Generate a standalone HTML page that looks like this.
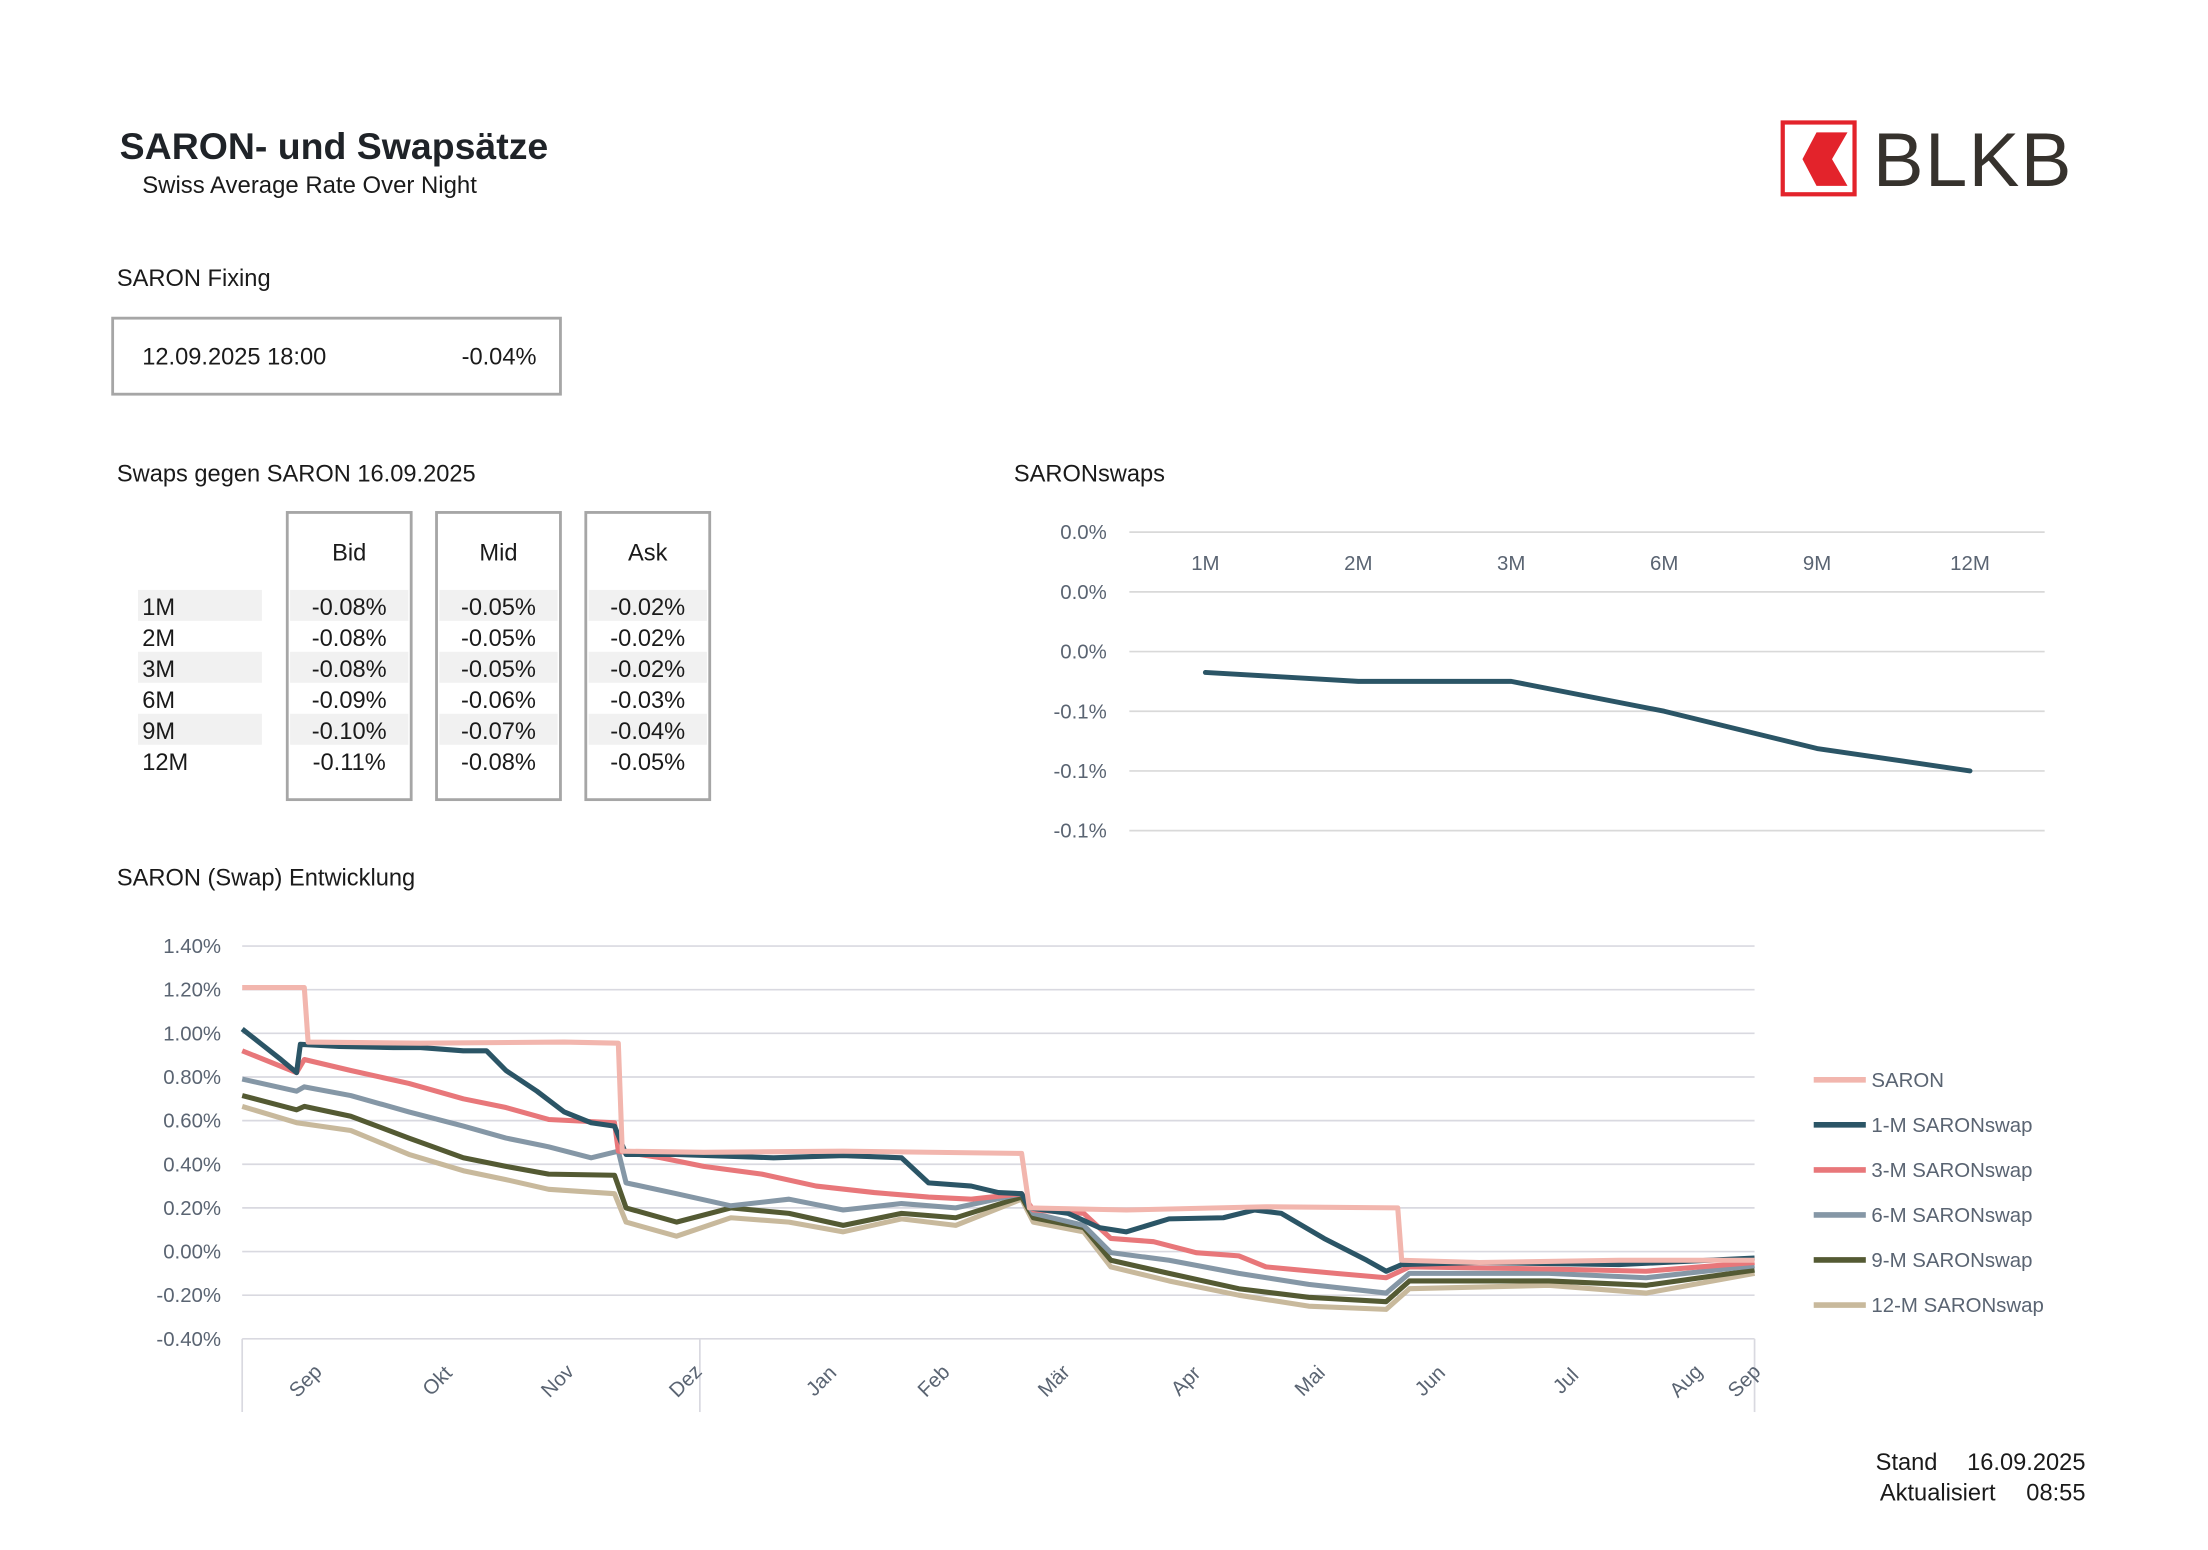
<!DOCTYPE html>
<html><head><meta charset="utf-8">
<style>
html,body{margin:0;padding:0;background:#fff;}
svg{display:block;font-family:"Liberation Sans",sans-serif;}
</style></head>
<body>
<svg id="root" width="2208" height="1550" viewBox="0 0 1568 1101" preserveAspectRatio="none" xmlns="http://www.w3.org/2000/svg">
<rect x="0" y="0" width="1568" height="1101" fill="#fff"/>
<text x="85" y="113" font-size="26.6" font-weight="bold" fill="#1f2328">SARON- und Swapsätze</text>
<text x="101" y="137" font-size="17" fill="#1a1a1a">Swiss Average Rate Over Night</text>
<g>
<rect x="1266" y="87" width="51" height="51" fill="#fff" stroke="#e3232b" stroke-width="3"/>
<polygon points="1290,94 1312,94 1301,113 1312,132 1290,132 1280,113" fill="#e3232b"/>
<text x="1330" y="132" font-size="54" fill="#36322d" letter-spacing="1">BLKB</text>
</g>
<text x="83" y="203" font-size="16.8" fill="#1a1a1a">SARON Fixing</text>
<g>
<rect x="80" y="226" width="318" height="54" fill="#fff" stroke="#a6a6a6" stroke-width="2"/>
<text x="101" y="259" font-size="16.8" fill="#1a1a1a">12.09.2025 18:00</text>
<text x="381" y="259" font-size="16.8" fill="#1a1a1a" text-anchor="end">-0.04%</text>
</g>
<text x="83" y="342" font-size="16.8" fill="#1a1a1a">Swaps gegen SARON 16.09.2025</text>
<g id="table"></g>
<text x="720" y="342" font-size="16.8" fill="#1a1a1a">SARONswaps</text>
<g id="curve"></g>
<text x="83" y="629" font-size="16.8" fill="#1a1a1a">SARON (Swap) Entwicklung</text>
<g id="hist"></g>
<g>
<text x="1332" y="1044" font-size="16.8" fill="#1a1a1a">Stand</text>
<text x="1481" y="1044" font-size="16.8" fill="#1a1a1a" text-anchor="end">16.09.2025</text>
<text x="1335" y="1066" font-size="16.8" fill="#1a1a1a">Aktualisiert</text>
<text x="1481" y="1066" font-size="16.8" fill="#1a1a1a" text-anchor="end">08:55</text>
</g>
</svg>
<script>
// ---- table data ----
const tenors = ["1M","2M","3M","6M","9M","12M"];
const bidVals = ["-0.08%","-0.08%","-0.08%","-0.09%","-0.10%","-0.11%"];
const midVals = ["-0.05%","-0.05%","-0.05%","-0.06%","-0.07%","-0.08%"];
const askVals = ["-0.02%","-0.02%","-0.02%","-0.03%","-0.04%","-0.05%"];
// ---- swap curve data ----
const curveCats = ["1M","2M","3M","6M","9M","12M"];
const curveVals = [-0.047,-0.05,-0.05,-0.06,-0.0725,-0.08];
const curveTicks = [0.00,-0.02,-0.04,-0.06,-0.08,-0.10];
const curveTickLabels = ["0.0%","0.0%","0.0%","-0.1%","-0.1%","-0.1%"];
// ---- history data (day index since start, value in %) ----
const histTicks = [1.4,1.2,1.0,0.8,0.6,0.4,0.2,0.0,-0.2,-0.4];
const histTickLabels = ["1.40%","1.20%","1.00%","0.80%","0.60%","0.40%","0.20%","0.00%","-0.20%","-0.40%"];
const monthLabels = ["Sep","Okt","Nov","Dez","Jan","Feb","Mär","Apr","Mai","Jun","Jul","Aug","Sep"];
const monthDays = [16,50,81,114,149,178,209,243,275,306,341,372,387];
const saronDays = [0,16,17,46,83,97,98,119,155,201,203,228,264,298,299,319,355,390];
const saronVals = [1.21,1.21,0.96,0.955,0.96,0.955,0.46,0.455,0.46,0.45,0.20,0.19,0.205,0.20,-0.04,-0.05,-0.04,-0.04];
const m1Days = [0,5,10,14,15,25,39,46,57,63,68,76,83,90,96,99,112,137,155,170,177,188,195,201,203,213,221,228,239,253,261,268,279,290,295,299,319,355,390];
const m1Vals = [1.02,0.95,0.88,0.82,0.95,0.94,0.935,0.935,0.92,0.92,0.83,0.735,0.64,0.59,0.575,0.445,0.445,0.43,0.44,0.43,0.315,0.30,0.27,0.265,0.20,0.175,0.11,0.09,0.15,0.155,0.19,0.175,0.06,-0.04,-0.09,-0.06,-0.05,-0.06,-0.03];
const m3Days = [0,14,16,28,43,57,68,79,96,97,108,119,134,148,163,177,188,201,204,217,224,235,246,257,264,282,295,301,337,362,390];
const m3Vals = [0.92,0.82,0.88,0.83,0.77,0.70,0.66,0.605,0.59,0.46,0.43,0.39,0.355,0.30,0.27,0.25,0.24,0.265,0.19,0.175,0.06,0.045,-0.005,-0.02,-0.07,-0.10,-0.12,-0.07,-0.08,-0.09,-0.05];
const m6Days = [0,14,16,28,43,57,68,79,90,97,99,112,126,141,155,170,184,201,204,217,224,239,257,275,295,301,337,362,390];
const m6Vals = [0.79,0.735,0.755,0.715,0.64,0.575,0.52,0.48,0.43,0.46,0.315,0.265,0.21,0.24,0.19,0.22,0.20,0.265,0.175,0.12,-0.005,-0.04,-0.10,-0.15,-0.19,-0.10,-0.10,-0.12,-0.065];
const m9Days = [0,14,16,28,43,57,68,79,96,99,112,126,141,155,170,184,201,204,217,224,239,257,275,295,301,337,362,390];
const m9Vals = [0.715,0.65,0.665,0.62,0.52,0.43,0.39,0.355,0.35,0.20,0.135,0.20,0.175,0.12,0.175,0.155,0.25,0.155,0.11,-0.04,-0.10,-0.17,-0.21,-0.23,-0.135,-0.135,-0.155,-0.085];
const m12Days = [0,14,28,43,57,68,79,96,99,112,126,141,155,170,184,201,204,217,224,239,257,275,295,301,337,362,390];
const m12Vals = [0.665,0.59,0.555,0.445,0.37,0.33,0.285,0.265,0.135,0.07,0.155,0.135,0.09,0.15,0.12,0.24,0.135,0.09,-0.07,-0.135,-0.20,-0.25,-0.265,-0.17,-0.155,-0.19,-0.10];
const seriesNames = ["SARON","1-M SARONswap","3-M SARONswap","6-M SARONswap","9-M SARONswap","12-M SARONswap"];

const NS="http://www.w3.org/2000/svg";
function mk(parent,tag,attrs,txt){const e=document.createElementNS(NS,tag);for(const k in attrs)e.setAttribute(k,attrs[k]);if(txt!==undefined)e.textContent=txt;parent.appendChild(e);return e;}

// ---- table ----
const tbl=document.getElementById('table');
const colX=[204,310,416], colW=88;
const cols=[["Bid",bidVals],["Mid",midVals],["Ask",askVals]];
tenors.forEach((t,i)=>{
  const y=419+i*22;
  if(i%2===0){
    const r=mk(tbl,'rect',{x:98,y:y,width:88,height:22,fill:'#f1f1f1'});
    
    
    colX.forEach(cx=>{const s=mk(tbl,'rect',{x:cx+2,y:y,width:colW-4,height:22,fill:'#f1f1f1'});
      
      });
  }
  const l=mk(tbl,'text',{x:101,y:y+18,'font-size':16.8,fill:'#1a1a1a'},t);
  
  
});
cols.forEach((c,ci)=>{
  const b=mk(tbl,'rect',{x:colX[ci],y:364,width:colW,height:204,fill:'none',stroke:'#a6a6a6','stroke-width':2});
  
  
  const h=mk(tbl,'text',{x:colX[ci]+colW/2,y:398,'font-size':16.8,fill:'#1a1a1a','text-anchor':'middle'},c[0]);
  
  
  c[1].forEach((v,i)=>{const t=mk(tbl,'text',{x:colX[ci]+colW/2,y:437+i*22,'font-size':16.8,fill:'#1a1a1a','text-anchor':'middle'},v);
    
    });
});

// ---- curve chart ----
const cv=document.getElementById('curve');
const cy=v=>378+(0-v)/0.02*42.4;
const cx=i=>856+i*108.6;
curveTicks.forEach((t,i)=>{
  const g=mk(cv,'line',{x1:802,x2:1452,y1:cy(t),y2:cy(t),stroke:'#d9d9d9','stroke-width':1.2});
  
  
  const l=mk(cv,'text',{x:786,y:cy(t)+5,'font-size':14.5,fill:'#5a6472','text-anchor':'end'},curveTickLabels[i]);
  
  
});
curveCats.forEach((c,i)=>{const l=mk(cv,'text',{x:cx(i),y:405,'font-size':14.5,fill:'#5a6472','text-anchor':'middle'},c);
  
  });
const cl=mk(cv,'polyline',{points:curveVals.map((v,i)=>cx(i)+','+cy(v)).join(' '),fill:'none',stroke:'#2b5566','stroke-width':3.5,'stroke-linejoin':'round','stroke-linecap':'round'});



// ---- history chart ----
const hg=document.getElementById('hist');
const X0=172,X1=1246,D=390;
const hx=d=>X0+d/D*(X1-X0);
const hy=v=>889-v*155;
histTicks.forEach((t,i)=>{
  const g=mk(hg,'line',{x1:X0,x2:X1,y1:hy(t),y2:hy(t),stroke:'#d9d9e0','stroke-width':1.2});
  
  
  const l=mk(hg,'text',{x:157,y:hy(t)+5,'font-size':14.5,fill:'#5a6472','text-anchor':'end'},histTickLabels[i]);
  
  
});
[X0,497,X1].forEach(x=>{const t=mk(hg,'line',{x1:x,x2:x,y1:951,y2:1003,stroke:'#d9d9e0','stroke-width':1.2});
  
  });
monthLabels.forEach((m,i)=>{const x=hx(monthDays[i]);
  const t=mk(hg,'text',{x:x,y:986,'font-size':14.5,fill:'#5a6472','text-anchor':'middle',transform:'rotate(-45 '+x+' 980)'},m);
  
  });
const series=[[saronDays,saronVals,'#f2b6ae'],[m1Days,m1Vals,'#2b5566'],[m3Days,m3Vals,'#e8777a'],[m6Days,m6Vals,'#8597a6'],[m9Days,m9Vals,'#545a33'],[m12Days,m12Vals,'#c8b99c']];
for(let s=series.length-1;s>=0;s--){
  const [ds,vs,col]=series[s];
  const p=mk(hg,'polyline',{points:ds.map((d,i)=>hx(d).toFixed(1)+','+hy(vs[i]).toFixed(1)).join(' '),fill:'none',stroke:col,'stroke-width':3.6,'stroke-linejoin':'round'});
  
  
}
seriesNames.forEach((n,i)=>{const y=767+i*32;
  const g=mk(hg,'g',{});
  
  
  mk(g,'line',{x1:1288,x2:1325,y1:y,y2:y,stroke:series[i][2],'stroke-width':4});
  mk(g,'text',{x:1329,y:y+5,'font-size':14.5,fill:'#5a6472'},n);
});
</script>
</body></html>
